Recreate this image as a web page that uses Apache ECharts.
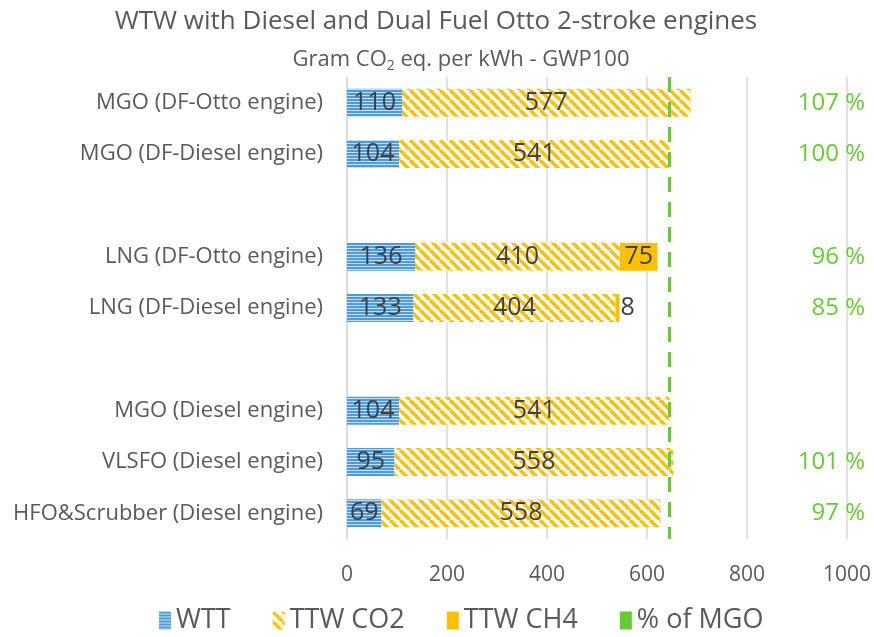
<!DOCTYPE html>
<html>
<head>
<meta charset="utf-8">
<script src="https://cdn.jsdelivr.net/npm/echarts@6/dist/echarts.min.js"></script>
<style>
  html, body { margin: 0; padding: 0; background: #fff; }
  #chart { width: 874px; height: 637px; }
</style>
</head>
<body>
<div id="chart"></div>
<script>
// rows from top to bottom, blank names are the gaps between groups
const categories = [
  'MGO (DF-Otto engine)',
  'MGO (DF-Diesel engine)',
  ' ',
  'LNG (DF-Otto engine)',
  'LNG (DF-Diesel engine)',
  '  ',
  'MGO (Diesel engine)',
  'VLSFO (Diesel engine)',
  'HFO&Scrubber (Diesel engine)'
]
const wtt = [110, 104, null, 136, 133, null, 104, 95, 69]
const ttwCo2 = [577, 541, null, 410, 404, null, 541, 558, 558]
const ttwCh4 = [null, null, null, 75, 8, null, null, null, null]
// % of MGO, printed at the right
const pctLabels = ['107 %', '100 %', '', '96 %', '85 %', '', '', '101 %', '97 %']
const xTicks = [0, 1000, 200] // min, max, interval

// reference line = MGO (Diesel engine) total
const mgoRef = wtt[6] + ttwCo2[6]

const GREEN = '#66CC33'
const YELLOW = '#FFC000'
const TEXT = '#595959'
const FONT = '"Open Sans", sans-serif'

// horizontal stripes for WTT
function stripePattern () {
  const c = document.createElement('canvas')
  c.width = 4
  c.height = 3
  const ctx = c.getContext('2d')
  ctx.fillStyle = '#4F9BD8'
  ctx.fillRect(0, 0, 4, 3)
  ctx.fillStyle = '#C5E0F5'
  ctx.fillRect(0, 2, 4, 1)
  return c
}

// "\" diagonal hatch for TTW CO2
function hatchPattern () {
  const s = 10
  const c = document.createElement('canvas')
  c.width = s
  c.height = s
  const ctx = c.getContext('2d')
  ctx.fillStyle = '#fff'
  ctx.fillRect(0, 0, s, s)
  ctx.strokeStyle = YELLOW
  ctx.lineWidth = 3.6
  for (let k = -1; k <= 1; k++) {
    ctx.beginPath()
    ctx.moveTo(k * s, 0)
    ctx.lineTo(k * s + s, s)
    ctx.stroke()
  }
  return c
}

const barLabel = {
  show: true,
  position: 'inside',
  color: '#404040',
  fontSize: 25,
  fontFamily: FONT
}

const myChart = echarts.init(document.getElementById('chart'))

const option = {
  animation: false,
  title: [
    {
      text: 'WTW with Diesel and Dual Fuel Otto 2-stroke engines',
      left: 431,
      top: 4,
      textAlign: 'center',
      textStyle: { fontSize: 26, fontWeight: 'normal', color: TEXT, fontFamily: FONT }
    },
    {
      text: 'Gram CO{sub|2} eq. per kWh - GWP100',
      left: 456,
      top: 42,
      textAlign: 'center',
      textStyle: {
        fontSize: 22, fontWeight: 'normal', color: TEXT, fontFamily: FONT,
        rich: {
          sub: { fontSize: 14, color: TEXT, fontFamily: FONT, verticalAlign: 'bottom', padding: [12, 0, 0, 0] }
        }
      }
    }
  ],
  legend: {
    top: 602,
    left: 154,
    icon: 'rect',
    itemWidth: 12,
    itemHeight: 18,
    itemGap: 42,
    textStyle: { fontSize: 27, color: TEXT, fontFamily: FONT },
    data: ['WTT', 'TTW CO2', 'TTW CH4', '% of MGO']
  },
  grid: {
    left: 347,
    right: 27,
    top: 77,
    bottom: 98,
    containLabel: false
  },
  xAxis: {
    type: 'value',
    min: xTicks[0],
    max: xTicks[1],
    interval: xTicks[2],
    axisLine: { show: false },
    axisTick: { show: false },
    splitLine: { lineStyle: { color: '#D9D9D9', width: 1.5 } },
    axisLabel: { color: TEXT, fontSize: 21, fontFamily: FONT, margin: 26, formatter: v => String(v) }
  },
  yAxis: [
    {
      type: 'category',
      inverse: true,
      data: categories,
      axisLine: { lineStyle: { color: '#D9D9D9', width: 1.5 } },
      axisTick: { show: false },
      axisLabel: { color: TEXT, fontSize: 22, fontFamily: FONT, margin: 24 }
    },
    {
      type: 'category',
      inverse: true,
      position: 'right',
      data: pctLabels,
      axisLine: { show: false },
      axisTick: { show: false },
      axisLabel: { color: GREEN, fontSize: 24, fontFamily: FONT, align: 'right', margin: 18 }
    }
  ],
  series: [
    {
      name: 'WTT',
      type: 'bar',
      stack: 'wtw',
      barWidth: 28,
      data: wtt,
      itemStyle: { color: { image: stripePattern(), repeat: 'repeat' } },
      label: barLabel
    },
    {
      name: 'TTW CO2',
      type: 'bar',
      stack: 'wtw',
      data: ttwCo2,
      itemStyle: { color: { image: hatchPattern(), repeat: 'repeat' } },
      label: barLabel
    },
    {
      name: 'TTW CH4',
      type: 'bar',
      stack: 'wtw',
      data: ttwCh4.map(v => (v != null && v < 20)
        ? { value: v, label: { position: 'right', distance: 1 } }
        : v),
      itemStyle: { color: YELLOW },
      label: barLabel
    },
    {
      name: '% of MGO',
      type: 'line',
      data: [],
      itemStyle: { color: GREEN },
      markLine: {
        silent: true,
        symbol: 'none',
        label: { show: false },
        lineStyle: { color: GREEN, width: 3, type: [15, 10] },
        data: [{ xAxis: mgoRef }]
      }
    }
  ]
}

myChart.setOption(option)
window.addEventListener('resize', () => { myChart.resize() })
</script>
</body>
</html>
